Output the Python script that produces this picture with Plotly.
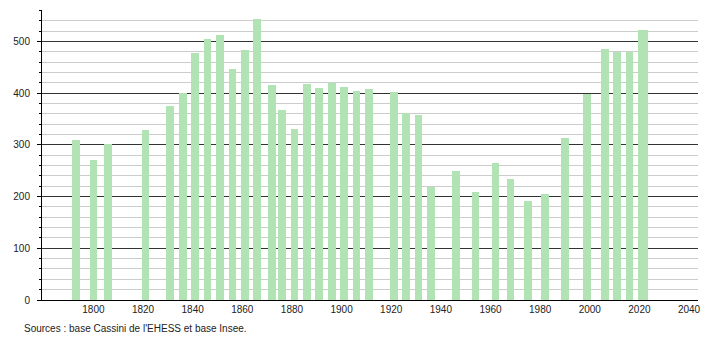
import plotly.graph_objects as go

years = [1793, 1800, 1806, 1821, 1831, 1836, 1841, 1846, 1851, 1856, 1861, 1866,
         1872, 1876, 1881, 1886, 1891, 1896, 1901, 1906, 1911, 1921, 1926, 1931,
         1936, 1946, 1954, 1962, 1968, 1975, 1982, 1990, 1999, 2006, 2011, 2016,
         2021, 2022]
population = [310, 271, 302, 329, 376, 400, 477, 505, 513, 447, 484, 544,
              415, 368, 331, 417, 411, 420, 413, 405, 409, 403, 362, 357,
              218, 250, 209, 265, 234, 192, 205, 314, 399, 486, 480, 480,
              523, 523]
x_ticks = [1800, 1820, 1840, 1860, 1880, 1900, 1920, 1940, 1960, 1980, 2000, 2020, 2040]
y_ticks = [0, 100, 200, 300, 400, 500]
source_text = "Sources : base Cassini de l'EHESS et base Insee."

fig = go.Figure()
fig.add_trace(go.Bar(
    x=years, y=population, width=3.1,
    marker=dict(color="#b2e3b4", line=dict(width=0)),
    hoverinfo="x+y",
))

font = dict(family="Liberation Sans, Arial, sans-serif", size=10, color="#222")

fig.update_layout(
    width=710, height=340,
    margin=dict(l=42, r=9, t=10, b=40),
    paper_bgcolor="white", plot_bgcolor="white",
    showlegend=False, bargap=0, barmode="overlay",
    font=font,
    xaxis=dict(
        range=[1779.3, 2043.6], tickmode="array", tickvals=x_ticks,
        showgrid=False, zeroline=False, showline=True, linecolor="black", linewidth=1,
        ticks="", tickfont=font, fixedrange=True,
    ),
    yaxis=dict(
        range=[0, 561], tickmode="array", tickvals=y_ticks,
        showgrid=True, gridcolor="#333", gridwidth=1,
        zeroline=False, showline=True, linecolor="black", linewidth=1,
        ticks="outside", ticklen=4, tickcolor="black", ticklabelstandoff=5,
        tickfont=font, fixedrange=True,
        minor=dict(dtick=20, tick0=0, showgrid=True, gridcolor="#cccccc", gridwidth=1,
                   ticks="outside", ticklen=2, tickcolor="black"),
    ),
    annotations=[dict(
        text=source_text, xref="paper", yref="paper", x=-0.031, y=-0.074,
        xanchor="left", yanchor="top", showarrow=False, font=font,
    )],
)

fig.write_html("out.html")
